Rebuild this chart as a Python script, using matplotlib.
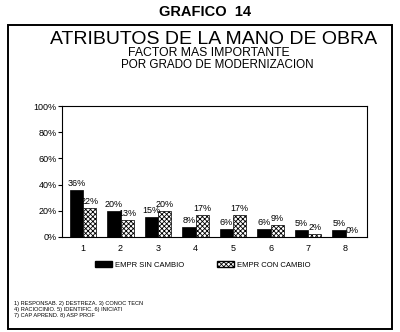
import matplotlib
matplotlib.use("Agg")
import matplotlib.pyplot as plt
from matplotlib.patches import Rectangle, Patch
import numpy as np

plt.rcParams['font.family'] = ['Liberation Sans', 'DejaVu Sans']
plt.rcParams['hatch.linewidth'] = 0.6

categories = ["1", "2", "3", "4", "5", "6", "7", "8"]
sin_cambio = [36, 20, 15, 8, 6, 6, 5, 5]
con_cambio = [22, 13, 20, 17, 17, 9, 2, 0]
yticks = [0, 20, 40, 60, 80, 100]
ytick_labels = ["0%", "20%", "40%", "60%", "80%", "100%"]
series_names = ["EMPR SIN CAMBIO", "EMPR CON CAMBIO"]
footnotes = ["1) RESPONSAB. 2) DESTREZA. 3) CONOC TECN",
             "4) RACIOCINIO. 5) IDENTIFIC. 6) INICIATI",
             "7) CAP APREND. 8) ASP PROF"]

fig = plt.figure(figsize=(4.0, 3.32), dpi=100)
W, H = 400, 332

# outer frame
fig.patches.append(Rectangle((8 / W, 1 - 329 / H), (392 - 8) / W, (329 - 25) / H,
                             transform=fig.transFigure, fill=False,
                             edgecolor='black', linewidth=1.4))

fig.text(205 / W, 1 - 12 / H, "GRAFICO  14", ha='center', va='center',
         fontsize=10.5, fontweight='bold')
fig.text(214 / W, 1 - 40 / H, "ATRIBUTOS DE LA MANO DE OBRA", ha='center',
         va='center', fontsize=14)
fig.text(209 / W, 1 - 53 / H, "FACTOR MAS IMPORTANTE", ha='center',
         va='center', fontsize=8.8)
fig.text(217 / W, 1 - 65 / H, "POR GRADO DE MODERNIZACION", ha='center',
         va='center', fontsize=8.4)

ax = fig.add_axes([62 / W, 1 - 237 / H, (367 - 62) / W, (237 - 106) / H])
x = np.arange(len(categories))
w = 0.35
ax.bar(x - w / 2, sin_cambio, w, color='black', edgecolor='black',
       linewidth=0.5, zorder=3)
ax.bar(x + w / 2, con_cambio, w, color='white', edgecolor='black',
       hatch='xxxxxxx', linewidth=0.5, zorder=3)

for xi, v in zip(x, sin_cambio):
    ax.text(xi - w / 2, v + 1.5, f"{v}%", ha='center', va='bottom',
            fontsize=6.5, zorder=2)
for xi, v in zip(x, con_cambio):
    ax.text(xi + w / 2, v + 1.5, f"{v}%", ha='center', va='bottom',
            fontsize=6.5, zorder=2)

ax.set_xlim(-0.56, 7.57)
ax.set_ylim(0, 100)
ax.set_yticks(yticks)
ax.set_yticklabels(ytick_labels, fontsize=6.5)
ax.set_xticks(x)
ax.set_xticklabels(categories, fontsize=6.5)
ax.tick_params(axis='x', length=0, pad=5)
ax.tick_params(axis='y', length=3, width=0.8, pad=1)
for s in ax.spines.values():
    s.set_linewidth(0.8)

handles = [Patch(facecolor='black', edgecolor='black'),
           Patch(facecolor='white', edgecolor='black', hatch='xxxxxxx')]
fig.legend(handles, series_names, loc='center left',
           bbox_to_anchor=(95 / W, 1 - 265 / H), ncol=2, frameon=False,
           fontsize=5.5, handlelength=2.2, handleheight=0.8,
           handletextpad=0.4, columnspacing=4.3, borderpad=0, borderaxespad=0)

for i, line in enumerate(footnotes):
    fig.text(14 / W, 1 - (303 + 6 * i) / H, line, ha='left', va='center',
             fontsize=4.1)

fig.savefig("out.png", dpi=100)
